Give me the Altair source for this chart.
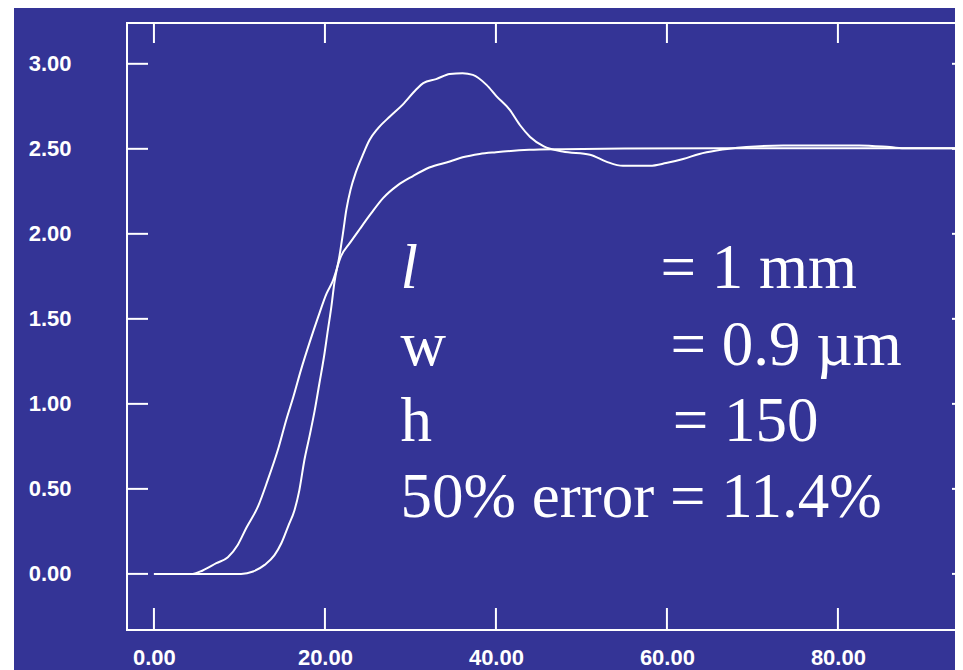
import altair as alt
import pandas as pd

# Curve 1: smooth first-order-like response
x_a = [0, 4.5, 5.7, 7.3, 8.65, 9.8, 10.8, 12.2, 13.3, 14.5, 15.5, 16.3, 17.2, 18.2,
       19.2, 20.2, 20.9, 21.9, 22.9, 24.1, 25.4, 26.8, 28.5, 30.3, 32.2, 34.6, 36.1,
       38.1, 40.0, 43.9, 47.8, 55, 70, 96]
y_a = [0, 0, 0.02, 0.063, 0.098, 0.17, 0.27, 0.40, 0.55, 0.73, 0.91, 1.04, 1.20, 1.36,
       1.51, 1.65, 1.72, 1.87, 1.945, 2.03, 2.12, 2.21, 2.285, 2.34, 2.39, 2.425, 2.45,
       2.47, 2.48, 2.494, 2.498, 2.502, 2.503, 2.503]

# Curve 2: response with overshoot
x_b = [0, 10.2, 11.6, 12.95, 14.1, 14.9, 15.7, 16.45, 17.0, 17.6, 18.2, 18.8, 19.35, 19.9,
       20.35, 20.75, 21.1, 21.7, 22.1, 22.5, 23.0, 23.6, 24.4, 25.2, 26.2, 27.6, 29.1,
       30.7, 31.5, 33.0, 34.6, 36.1, 37.3, 38.9, 40.05, 41.6, 42.8, 44.0, 45.6, 47.8,
       51.0, 52.9, 54.85, 58.0, 59.9, 61.9, 63.8, 65.8, 69.3, 73.6, 82.5, 86.1, 88, 96]
y_b = [0, 0, 0.014, 0.053, 0.11, 0.18, 0.28, 0.376, 0.49, 0.67, 0.81, 0.96, 1.12, 1.28,
       1.435, 1.57, 1.71, 1.87, 2.00, 2.14, 2.26, 2.36, 2.46, 2.55, 2.62, 2.69, 2.76,
       2.85, 2.886, 2.91, 2.94, 2.945, 2.935, 2.876, 2.81, 2.73, 2.64, 2.57, 2.515, 2.484,
       2.465, 2.425, 2.40, 2.40, 2.416, 2.44, 2.47, 2.49, 2.51, 2.52, 2.52, 2.51, 2.503, 2.503]

x_ticks = [0, 20, 40, 60, 80]
y_ticks = [0, 0.5, 1.0, 1.5, 2.0, 2.5, 3.0]

left_labels = ["l", "w", "h", "50% error = 11.4%"]
left_italic = [True, False, False, False]
right_labels = ["= 1 mm", "= 0.9 \u00b5m", "= 150"]
line_y = [1.682, 1.229, 0.782, 0.335]
left_x = 28.85
right_x = [59.26, 60.43, 60.67]

BG = "#343496"
W, H = 846, 607
X_DOM = [-3.15, 95.8]
Y_DOM = [-0.33, 3.24]

curves = pd.concat([
    pd.DataFrame({"x": x_a, "y": y_a, "s": "a"}),
    pd.DataFrame({"x": x_b, "y": y_b, "s": "b"}),
])

xs = alt.Scale(domain=X_DOM, nice=False, zero=False)
ys = alt.Scale(domain=Y_DOM, nice=False, zero=False)

lab_font = "Liberation Sans"
xa = alt.Axis(values=x_ticks, format=".2f", title=None, grid=False, domain=False, ticks=False,
              tickSize=0, labelPadding=17, labelColor="white", labelFont=lab_font,
              labelFontSize=22, labelFontWeight="bold", labelBaseline="top", zindex=2)
ya = alt.Axis(values=y_ticks, format=".2f", title=None, grid=False, domain=False, ticks=False,
              tickSize=0, labelPadding=56, labelColor="white", labelFont=lab_font,
              labelFontSize=22, labelFontWeight="bold", labelAlign="right",
              labelBaseline="middle", zindex=2)

one = pd.DataFrame({"k": [0]})

# background panel (white page strip on the far left as in the reference)
bg = alt.Chart(one).mark_rect(color=BG, clip=False).encode(
    x=alt.value(-113), x2=alt.value(W + 40), y=alt.value(-20), y2=alt.value(H + 60))

# plot frame
frame = alt.Chart(one).mark_rect(filled=False, stroke="white", strokeWidth=2,
                                 clip=False).encode(
    x=alt.value(0), x2=alt.value(W), y=alt.value(0), y2=alt.value(H))

lines = alt.Chart(curves).mark_line(color="white", strokeWidth=2, clip=True,
                                    interpolate="monotone").encode(
    x=alt.X("x:Q", scale=xs, axis=xa),
    y=alt.Y("y:Q", scale=ys, axis=ya),
    detail="s:N",
)

xt = pd.DataFrame({"v": x_ticks})
yt = pd.DataFrame({"v": y_ticks})

ytick_left = alt.Chart(yt).mark_rule(color="white", strokeWidth=2).encode(
    y=alt.Y("v:Q", scale=ys, axis=ya), x=alt.value(0), x2=alt.value(21))
ytick_right = alt.Chart(yt).mark_rule(color="white", strokeWidth=2).encode(
    y=alt.Y("v:Q", scale=ys, axis=ya), x=alt.value(W - 21), x2=alt.value(W))
xtick_bot = alt.Chart(xt).mark_rule(color="white", strokeWidth=2).encode(
    x=alt.X("v:Q", scale=xs, axis=xa), y=alt.value(H - 22), y2=alt.value(H))
xtick_top = alt.Chart(xt).mark_rule(color="white", strokeWidth=2).encode(
    x=alt.X("v:Q", scale=xs, axis=xa), y=alt.value(0), y2=alt.value(20))

left_df = pd.DataFrame({"t": left_labels, "y": line_y, "x": left_x,
                        "it": ["italic" if i else "normal" for i in left_italic]})
right_df = pd.DataFrame({"t": right_labels, "y": line_y[:3], "x": right_x})

def txt(df, **kw):
    return alt.Chart(df).mark_text(
        color="white", font="Liberation Serif", fontSize=63, align="left",
        baseline="alphabetic", **kw).encode(
        x=alt.X("x:Q", scale=xs, axis=xa), y=alt.Y("y:Q", scale=ys, axis=ya), text="t:N")

left_norm = txt(left_df[left_df.it == "normal"])
left_ital = txt(left_df[left_df.it == "italic"], fontStyle="italic")
right_txt = txt(right_df)

chart = alt.layer(
    bg, frame, lines, ytick_left, ytick_right, xtick_bot, xtick_top,
    left_norm, left_ital, right_txt
).properties(
    width=W, height=H,
    autosize=alt.AutoSizeParams(type="none"),
    padding={"left": 119, "top": 15, "right": -18, "bottom": 40},
    background="white",
).configure_view(stroke=None)

chart.save("out.html", embed_options={"renderer": "svg", "actions": False})
